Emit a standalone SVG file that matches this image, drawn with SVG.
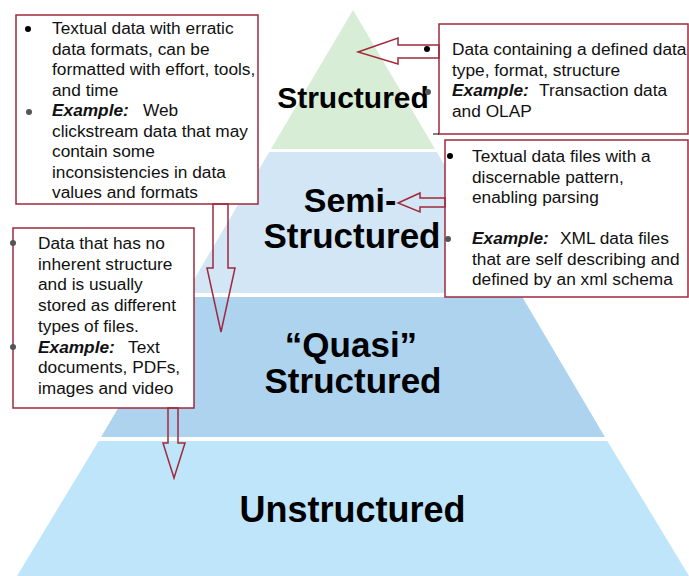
<svg xmlns="http://www.w3.org/2000/svg" width="689" height="576" viewBox="0 0 689 576">
<style>
.t{font-family:"Liberation Sans",Arial,sans-serif;font-size:17.3px;fill:#111}
.ex{font-weight:bold;font-style:italic}
.big{font-family:"Liberation Sans",Arial,sans-serif;font-weight:bold;fill:#000;text-anchor:middle}
.box{fill:#fff;stroke:#a02a3c;stroke-width:1.5}
.arr{fill:none;stroke:#a02a3c;stroke-width:1.5;stroke-linejoin:miter}
.b1{fill:#000}
.b2{fill:#555}
</style>
<rect width="689" height="576" fill="#fff"/>
<g id="tier-structured">
<polygon points="353,10 435,149 271,149" fill="#d8edd5"/>
<text class="big" x="353" y="108" font-size="30">Structured</text>
</g>
<g id="tier-semi">
<polygon points="269.2,152 436.8,152 520,293 186,293" fill="#d3e6f6"/>
<text class="big" x="350" y="212" font-size="34">Semi-</text>
<text class="big" x="352" y="248" font-size="35">Structured</text>
</g>
<g id="tier-quasi">
<polygon points="183.7,297 522.3,297 604.9,437 101.1,437" fill="#add3ef"/>
<text class="big" x="351" y="357" font-size="35">“Quasi”</text>
<text class="big" x="353" y="393" font-size="35">Structured</text>
</g>
<g id="tier-unstructured">
<polygon points="98.7,441 607.3,441 689,576 17,576" fill="#bfe5fb"/>
<text class="big" x="352.5" y="522" font-size="36">Unstructured</text>
</g>
<g id="box-quasi">
<rect class="box" x="16" y="15" width="242" height="189"/>
<circle class="b1" cx="28" cy="29" r="3"/>
<circle class="b2" cx="29" cy="112" r="3"/>
<text class="t"><tspan x="52" y="34">Textual data with erratic</tspan><tspan x="52" y="54.5">data formats, can be</tspan><tspan x="52" y="75">formatted with effort, tools,</tspan><tspan x="52" y="95.5">and time</tspan><tspan x="52" y="116" class="ex">Example:</tspan><tspan x="143" y="116">Web</tspan><tspan x="52" y="136.5">clickstream data that may</tspan><tspan x="52" y="157">contain some</tspan><tspan x="52" y="177.5">inconsistencies in data</tspan><tspan x="52" y="198">values and formats</tspan></text>
</g>
<g id="box-structured">
<rect class="box" x="439" y="24" width="249" height="110"/>
<line x1="433" y1="134" x2="439" y2="134" stroke="#000" stroke-width="1"/>
<circle class="b1" cx="427" cy="49" r="3"/>
<circle class="b2" cx="428" cy="92" r="3"/>
<text class="t"><tspan x="452" y="55">Data containing a defined data</tspan><tspan x="452" y="75.5">type, format, structure</tspan><tspan x="452" y="96" class="ex">Example:</tspan><tspan x="539" y="96">Transaction data</tspan><tspan x="452" y="116.5">and OLAP</tspan></text>
</g>
<g id="box-semi">
<rect class="box" x="445" y="140" width="243" height="157"/>
<circle class="b1" cx="450" cy="156" r="3"/>
<circle class="b2" cx="448" cy="239" r="3"/>
<text class="t"><tspan x="472" y="162">Textual data files with a</tspan><tspan x="472" y="182.5">discernable pattern,</tspan><tspan x="472" y="203">enabling parsing</tspan><tspan x="472" y="244" class="ex">Example:</tspan><tspan x="560" y="244">XML data files</tspan><tspan x="472" y="264.5">that are self describing and</tspan><tspan x="472" y="285">defined by an xml schema</tspan></text>
</g>
<g id="box-unstructured">
<rect class="box" x="13" y="228" width="181" height="180"/>
<circle class="b2" cx="13" cy="243" r="3"/>
<circle class="b2" cx="13" cy="347" r="3"/>
<text class="t"><tspan x="38" y="249">Data that has no</tspan><tspan x="38" y="269.7">inherent structure</tspan><tspan x="38" y="290.4">and is usually</tspan><tspan x="38" y="311.1">stored as different</tspan><tspan x="38" y="331.8">types of files.</tspan><tspan x="38" y="352.5" class="ex">Example:</tspan><tspan x="128" y="352.5">Text</tspan><tspan x="38" y="373.2">documents, PDFs,</tspan><tspan x="38" y="394">images and video</tspan></text>
</g>
<g id="connectors">
<polygon class="arr" points="439,45 398,45 398,38 358,52 398,64 398,58 439,58"/>
<polygon class="arr" points="445,198 420,198 420,193 398,203 420,212 420,207 445,207"/>
<polygon class="arr" points="213,204 213,268 207,268 221,332 235,268 228,268 228,204"/>
<polygon class="arr" points="168,408 168,443 163,443 174,478 185,443 178,443 178,408"/>
</g>
</svg>
